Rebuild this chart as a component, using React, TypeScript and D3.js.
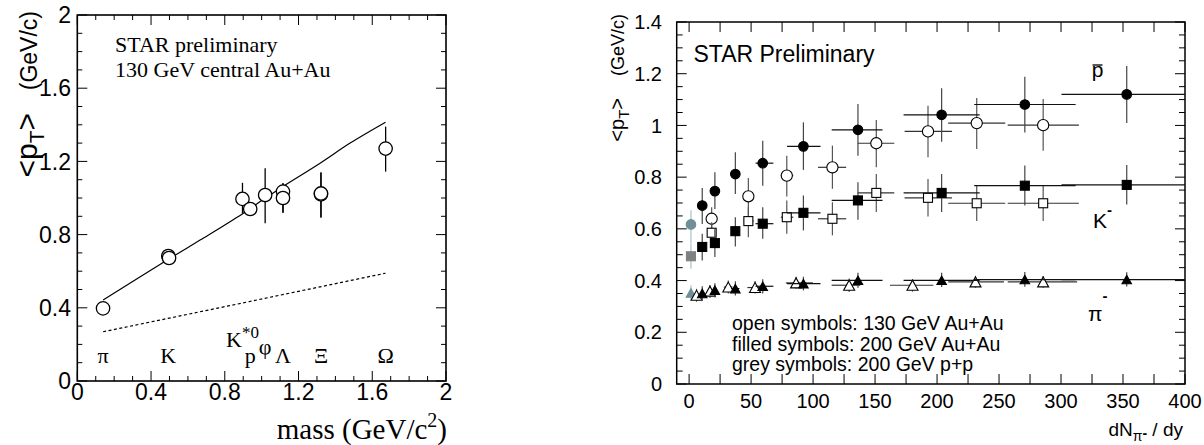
import React from "react";
import * as d3 from "d3";

const SANS = "'Liberation Sans', Arial, Helvetica, sans-serif";
const SERIF = "'Liberation Serif', 'Times New Roman', serif";

// ---------- Left panel data ----------
const massL = [0.1396, 0.4937, 0.4977, 0.896, 0.938, 1.019, 1.1157, 1.1157, 1.3217, 1.3217, 1.6725];
const ptL = [0.397, 0.683, 0.672, 0.995, 0.94, 1.016, 1.035, 1.0, 1.02, 1.025, 1.27];
const ptLoL = [null, null, null, 0.916, null, 0.862, 0.92, 0.92, 0.894, 0.894, 1.144];
const ptHiL = [null, null, null, 1.083, null, 1.162, 1.08, 1.08, 1.14, 1.14, 1.39];
const modelMass = [0.14, 0.494, 0.666, 0.895, 1.018, 1.114, 1.317, 1.48, 1.672];
const modelPt = [0.443, 0.665, 0.77, 0.913, 0.998, 1.062, 1.19, 1.3, 1.414];
const dashMass = [0.14, 0.9, 1.672];
const dashPt = [0.269, 0.427, 0.589];
const particleNames = ["π", "K", "K*0", "p", "φ", "Λ", "Ξ", "Ω"];
const particleMass = [0.1396, 0.4937, 0.896, 0.938, 1.019, 1.1157, 1.3217, 1.6725];
const leftTickLabels = ["0", "0.4", "0.8", "1.2", "1.6", "2"];
const leftTickValues = [0, 0.4, 0.8, 1.2, 1.6, 2];

// ---------- Right panel data ----------
// 200 GeV Au+Au (filled)
const dnFilled = [10.6, 20.8, 37.3, 59.4, 92.2, 136.2, 203.7, 270.8, 353];
const dnFilledLo = [9, 19, 34, 53.6, 79, 115, 173, 230, 300.4];
const dnFilledHi = [12.2, 22.6, 40.6, 68, 106, 156, 234.4, 311.8, 400];
const pbarFilled = [0.69, 0.746, 0.812, 0.854, 0.919, 0.983, 1.041, 1.081, 1.12];
const pbarFilledLo = [0.619, 0.677, 0.735, 0.767, 0.828, 0.883, 0.937, 0.973, 1.009];
const pbarFilledHi = [0.758, 0.819, 0.896, 0.941, 1.012, 1.083, 1.144, 1.188, 1.23];
const kFilled = [0.53, 0.545, 0.591, 0.62, 0.662, 0.71, 0.739, 0.767, 0.77];
const kFilledLo = [0.478, 0.491, 0.532, 0.562, 0.594, 0.635, 0.665, 0.69, 0.694];
const kFilledHi = [0.581, 0.6, 0.645, 0.684, 0.729, 0.78, 0.812, 0.845, 0.847];
const piFilled = [0.35, 0.363, 0.369, 0.378, 0.388, 0.401, 0.401, 0.404, 0.404];
const piFilledLo = [0.322, 0.335, 0.342, 0.35, 0.362, 0.372, 0.375, 0.376, 0.377];
const piFilledHi = [0.378, 0.39, 0.397, 0.405, 0.415, 0.43, 0.43, 0.433, 0.432];
// 130 GeV Au+Au (open)
const dnOpen = [18.2, 47.8, 78.8, 115.6, 151, 192.7, 232, 285.6];
const dnOpenLo = [16.5, 44, 74, 104, 136, 173.8, 209, 257];
const dnOpenHi = [20, 52, 84, 126.7, 165.5, 212, 255, 314.4];
const pbarOpen = [0.639, 0.726, 0.806, 0.838, 0.931, 0.977, 1.009, 1.001];
const pbarOpenLo = [0.59, 0.652, 0.725, 0.755, 0.838, 0.877, 0.909, 0.902];
const pbarOpenHi = [0.684, 0.797, 0.883, 0.922, 1.021, 1.076, 1.106, 1.102];
const kOpen = [0.585, 0.63, 0.645, 0.639, 0.739, 0.72, 0.699, 0.699];
const kOpenLo = [0.536, 0.568, 0.581, 0.575, 0.665, 0.648, 0.63, 0.63];
const kOpenHi = [0.626, 0.684, 0.71, 0.703, 0.812, 0.793, 0.767, 0.767];
const dnPiOpen = [6.0, 16.8, 31.6, 53.2, 86.3, 129.1, 180.2, 231, 285.6];
const dnPiOpenLo = [5, 15, 28, 47, 78, 115, 162, 209, 257];
const dnPiOpenHi = [7, 18.5, 35, 59, 99.8, 138, 197, 254, 313];
const piOpen = [0.343, 0.359, 0.375, 0.373, 0.391, 0.382, 0.382, 0.395, 0.395];
const piOpenLo = [0.318, 0.333, 0.35, 0.35, 0.368, 0.356, 0.357, 0.372, 0.372];
const piOpenHi = [0.368, 0.383, 0.4, 0.398, 0.415, 0.408, 0.405, 0.418, 0.418];
// 200 GeV p+p (grey)
const dnPP = [1.5];
const pbarPP = [0.617];
const pbarPPLo = [0.545];
const pbarPPHi = [0.672];
const kPP = [0.494];
const kPPLo = [0.446];
const kPPHi = [0.543];
const piPP = [0.352];
const piPPLo = [0.324];
const piPPHi = [0.382];
const rightXTickValues = [0, 50, 100, 150, 200, 250, 300, 350, 400];
const rightYTickValues = [0, 0.2, 0.4, 0.6, 0.8, 1, 1.2, 1.4];
const legendLines = [
  "open symbols: 130 GeV Au+Au",
  "filled symbols: 200 GeV Au+Au",
  "grey symbols: 200 GeV p+p",
];

// ---------- Scales ----------
const xL = d3.scaleLinear().domain([0, 2]).range([77.3, 446]);
const yL = d3.scaleLinear().domain([0, 2]).range([381, 15]);
const xR = d3.scaleLinear().domain([-10, 400]).range([676.7, 1185]);
const yR = d3.scaleLinear().domain([0, 1.4]).range([384, 22]);

const tri = (cx: number, cy: number, w: number, h: number) =>
  `M${cx - w / 2},${cy + h / 2}L${cx + w / 2},${cy + h / 2}L${cx},${cy - h / 2}Z`;

type Series = {
  x: number[];
  xLo: number[];
  xHi: number[];
  y: number[];
  yLo: number[];
  yHi: number[];
  shape: "circle" | "square" | "triangle";
  fill: string;
  stroke: string;
  open: boolean;
  barColorV: string;
  barColorH: string;
};

function Points({ s }: { s: Series }) {
  return (
    <g>
      {s.x.map((x, i) => (
        <g key={"b" + i}>
          <line x1={xR(s.xLo[i])} x2={xR(s.xHi[i])} y1={yR(s.y[i])} y2={yR(s.y[i])} stroke={s.barColorH} strokeWidth={1.2} />
          <line x1={xR(x)} x2={xR(x)} y1={yR(s.yLo[i])} y2={yR(s.yHi[i])} stroke={s.barColorV} strokeWidth={1.2} />
        </g>
      ))}
      {s.x.map((x, i) => {
        const cx = xR(x);
        const cy = yR(s.y[i]);
        if (s.shape === "circle") {
          const r = s.open ? 5.6 : 4.8;
          return <circle key={"m" + i} cx={cx} cy={cy} r={r} fill={s.fill} stroke={s.stroke} strokeWidth={1.1} />;
        }
        if (s.shape === "square") {
          const a = 9;
          return <rect key={"m" + i} x={cx - a / 2} y={cy - a / 2} width={a} height={a} fill={s.fill} stroke={s.stroke} strokeWidth={1.1} />;
        }
        const w = s.open ? 11 : 9.5;
        const h = s.open ? 10 : 8.5;
        return <path key={"m" + i} d={tri(cx, cy, w, h)} fill={s.fill} stroke={s.stroke} strokeWidth={1.1} />;
      })}
    </g>
  );
}

function LeftPanel() {
  const minor = d3.range(0, 21).map((i) => ({ v: i / 10, major: i % 4 === 0 }));
  const solid = d3
    .line<number>()
    .x((m) => xL(m))
    .y((_, i) => yL(modelPt[i]))
    .curve(d3.curveCatmullRom)(modelMass);
  const dashed = d3
    .line<number>()
    .x((m) => xL(m))
    .y((_, i) => yL(dashPt[i]))(dashMass);
  const [x0, x1] = xL.range();
  const [y0, y1] = yL.range();
  return (
    <g>
      {minor.map((t, i) => {
        const len = t.major ? 10 : 5;
        const xx = xL(t.v);
        const yy = yL(t.v);
        return (
          <g key={i} stroke="#000" strokeWidth={1}>
            <line x1={xx} x2={xx} y1={y0} y2={y0 - len} />
            <line x1={xx} x2={xx} y1={y1} y2={y1 + len} />
            <line x1={x0} x2={x0 + len} y1={yy} y2={yy} />
            <line x1={x1} x2={x1 - len} y1={yy} y2={yy} />
          </g>
        );
      })}
      <rect x={x0} y={y1} width={x1 - x0} height={y0 - y1} fill="none" stroke="#000" strokeWidth={1.6} />
      {leftTickValues.map((v, i) => (
        <text key={"xl" + i} x={xL(v)} y={400} textAnchor="middle" fontFamily={SANS} fontSize={23}>
          {leftTickLabels[i]}
        </text>
      ))}
      {leftTickValues.map((v, i) => (
        <text key={"yl" + i} x={71} y={yL(v)} dy="0.36em" textAnchor="end" fontFamily={SANS} fontSize={23}>
          {leftTickLabels[i]}
        </text>
      ))}
      <text x={447} y={439} textAnchor="end" fontFamily={SERIF} fontSize={29}>
        mass (GeV/c<tspan dy={-12} fontSize={20}>2</tspan>
        <tspan dy={12}>)</tspan>
      </text>
      <text transform="translate(37,11) rotate(-90)" textAnchor="end" fontFamily={SANS} fontSize={23}>
        (GeV/c)
      </text>
      <text transform="translate(37,113) rotate(-90)" textAnchor="end" fontFamily={SANS} fontSize={30}>
        &lt;p<tspan dy={7} fontSize={21}>T</tspan>
        <tspan dy={-7}>&gt;</tspan>
      </text>
      <text x={115} y={52} fontFamily={SERIF} fontSize={22}>STAR preliminary</text>
      <text x={115} y={77} fontFamily={SERIF} fontSize={22}>130 GeV central Au+Au</text>
      {particleNames.map((n, i) => {
        const x = xL(particleMass[i]);
        if (n === "K*0") {
          return (
            <text key={n} x={x} y={347} textAnchor="middle" fontFamily={SERIF} fontSize={22}>
              K<tspan dy={-9} fontSize={17}>*0</tspan>
            </text>
          );
        }
        const y = n === "φ" ? 354 : 363;
        return (
          <text key={n} x={x} y={y} textAnchor="middle" fontFamily={SERIF} fontSize={22}>
            {n}
          </text>
        );
      })}
      <path d={solid || ""} fill="none" stroke="#000" strokeWidth={1.2} />
      <path d={dashed || ""} fill="none" stroke="#000" strokeWidth={1.2} strokeDasharray="3,2.5" />
      {massL.map((m, i) =>
        ptLoL[i] != null ? (
          <line key={"e" + i} x1={xL(m)} x2={xL(m)} y1={yL(ptLoL[i] as number)} y2={yL(ptHiL[i] as number)} stroke="#000" strokeWidth={1.3} />
        ) : null
      )}
      {massL.map((m, i) => (
        <circle key={"c" + i} cx={xL(m)} cy={yL(ptL[i])} r={6.7} fill="#fff" stroke="#000" strokeWidth={1.3} />
      ))}
    </g>
  );
}

function RightPanel() {
  const yTicks = d3.range(0, 29).map((i) => ({ v: i * 0.05, major: i % 4 === 0 }));
  const xTicks = d3.range(0, 17).map((i) => i * 25);
  const [x0, x1] = xR.range();
  const [y0, y1] = yR.range();
  const grey = "#6f8f98";
  const greyBar = "#a9c2ca";
  const series: Series[] = [
    { x: dnPP, xLo: dnPP, xHi: dnPP, y: pbarPP, yLo: pbarPPLo, yHi: pbarPPHi, shape: "circle", fill: grey, stroke: grey, open: false, barColorV: greyBar, barColorH: greyBar },
    { x: dnPP, xLo: dnPP, xHi: dnPP, y: kPP, yLo: kPPLo, yHi: kPPHi, shape: "square", fill: "#808080", stroke: "#808080", open: false, barColorV: greyBar, barColorH: greyBar },
    { x: dnPP, xLo: dnPP, xHi: dnPP, y: piPP, yLo: piPPLo, yHi: piPPHi, shape: "triangle", fill: grey, stroke: grey, open: false, barColorV: greyBar, barColorH: greyBar },
    { x: dnOpen, xLo: dnOpenLo, xHi: dnOpenHi, y: pbarOpen, yLo: pbarOpenLo, yHi: pbarOpenHi, shape: "circle", fill: "#fff", stroke: "#000", open: true, barColorV: "#555", barColorH: "#333" },
    { x: dnOpen, xLo: dnOpenLo, xHi: dnOpenHi, y: kOpen, yLo: kOpenLo, yHi: kOpenHi, shape: "square", fill: "#fff", stroke: "#000", open: true, barColorV: "#555", barColorH: "#333" },
    { x: dnPiOpen, xLo: dnPiOpenLo, xHi: dnPiOpenHi, y: piOpen, yLo: piOpenLo, yHi: piOpenHi, shape: "triangle", fill: "#fff", stroke: "#000", open: true, barColorV: "#555", barColorH: "#333" },
    { x: dnFilled, xLo: dnFilledLo, xHi: dnFilledHi, y: pbarFilled, yLo: pbarFilledLo, yHi: pbarFilledHi, shape: "circle", fill: "#000", stroke: "#000", open: false, barColorV: "#444", barColorH: "#111" },
    { x: dnFilled, xLo: dnFilledLo, xHi: dnFilledHi, y: kFilled, yLo: kFilledLo, yHi: kFilledHi, shape: "square", fill: "#000", stroke: "#000", open: false, barColorV: "#444", barColorH: "#111" },
    { x: dnFilled, xLo: dnFilledLo, xHi: dnFilledHi, y: piFilled, yLo: piFilledLo, yHi: piFilledHi, shape: "triangle", fill: "#000", stroke: "#000", open: false, barColorV: "#444", barColorH: "#111" },
  ];
  return (
    <g>
      {yTicks.map((t, i) => {
        const len = t.major ? 10 : 6;
        const yy = yR(t.v);
        return (
          <g key={"yt" + i} stroke="#000" strokeWidth={1}>
            <line x1={x0} x2={x0 + len} y1={yy} y2={yy} />
            <line x1={x1} x2={x1 - len} y1={yy} y2={yy} />
          </g>
        );
      })}
      {xTicks.map((v, i) => {
        const xx = xR(v);
        return (
          <g key={"xt" + i} stroke="#000" strokeWidth={1}>
            <line x1={xx} x2={xx} y1={y0} y2={y0 - 10} />
            <line x1={xx} x2={xx} y1={y1} y2={y1 + 10} />
          </g>
        );
      })}
      <rect x={x0} y={y1} width={x1 - x0} height={y0 - y1} fill="none" stroke="#000" strokeWidth={1.5} />
      {rightXTickValues.map((v) => (
        <text key={"xl" + v} x={xR(v)} y={408} textAnchor="middle" fontFamily={SANS} fontSize={20}>
          {String(v)}
        </text>
      ))}
      {rightYTickValues.map((v) => (
        <text key={"yl" + v} x={662} y={yR(v)} dy="0.36em" textAnchor="end" fontFamily={SANS} fontSize={20}>
          {String(+v.toFixed(1))}
        </text>
      ))}
      <text x={1183} y={436} textAnchor="end" fontFamily={SANS} fontSize={19}>
        dN<tspan dy={5} fontSize={14}>π</tspan>
        <tspan dy={-3} fontSize={14} fontWeight="bold">-</tspan>
        <tspan dy={-2}> / dy</tspan>
      </text>
      <text transform="translate(624,14) rotate(-90)" textAnchor="end" fontFamily={SANS} fontSize={18}>
        (GeV/c)
      </text>
      <text transform="translate(624,98) rotate(-90)" textAnchor="end" fontFamily={SANS} fontSize={20}>
        &lt;p<tspan dy={5} fontSize={15}>T</tspan>
        <tspan dy={-5}>&gt;</tspan>
      </text>
      <text x={693.5} y={62} fontFamily={SANS} fontSize={23}>STAR Preliminary</text>
      {legendLines.map((l, i) => (
        <text key={l} x={732} y={330 + i * 20.5} fontFamily={SANS} fontSize={19.5}>
          {l}
        </text>
      ))}
      <text x={1097.5} y={77} textAnchor="middle" fontFamily={SANS} fontSize={21}>p</text>
      <line x1={1092.5} x2={1102.5} y1={65} y2={65} stroke="#000" strokeWidth={1.3} />
      <text x={1093} y={228} fontFamily={SANS} fontSize={21}>
        K<tspan dy={-13} fontSize={15} fontWeight="bold">-</tspan>
      </text>
      <text x={1088} y={321} fontFamily={SANS} fontSize={21}>
        π<tspan dy={-20} fontSize={15} fontWeight="bold">-</tspan>
      </text>
      {series.map((s, i) => (
        <Points key={i} s={s} />
      ))}
    </g>
  );
}

export default function App() {
  return (
    <svg width={1204} height={445} style={{ position: "absolute", left: 0, top: 0, background: "#fff" }}>
      <rect x={0} y={0} width={1204} height={445} fill="#fff" />
      <LeftPanel />
      <RightPanel />
    </svg>
  );
}
